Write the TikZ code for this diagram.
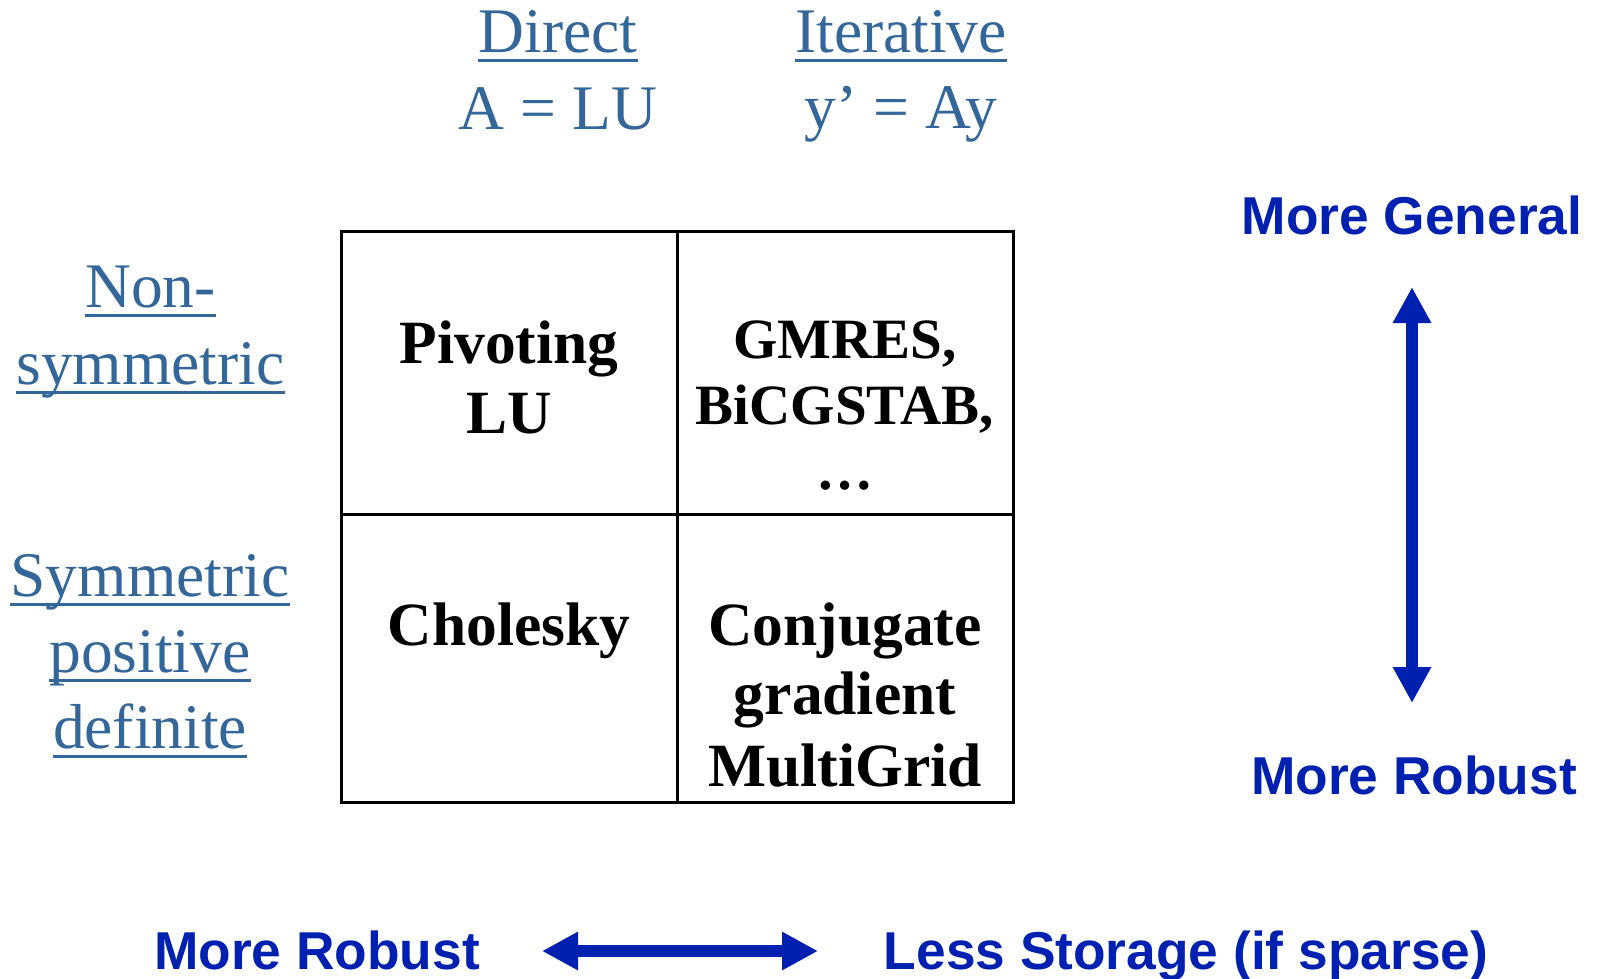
\documentclass[tikz,border=0pt]{standalone}
\usepackage{fontspec}
\setmainfont{Liberation Serif}
\newfontfamily\headsans{Liberation Sans}
\usetikzlibrary{arrows.meta}
\definecolor{headblue}{RGB}{51,102,153}
\definecolor{navyblue}{RGB}{0,32,176}

\begin{document}
\begin{tikzpicture}[x=1pt,y=-1pt,
  txt/.style={inner sep=0pt, anchor=base},
  hdr/.style={txt, text=headblue, font=\fontsize{63.5}{76}\selectfont},
  cell/.style={txt, font=\bfseries\fontsize{61.5}{71}\selectfont},
  cellsmall/.style={txt, font=\bfseries\fontsize{57}{65}\selectfont},
  note/.style={txt, text=navyblue, font=\headsans\bfseries\fontsize{53.3}{62}\selectfont},
  uline/.style={headblue, line width=3pt},
  gridline/.style={black, line width=3pt},
  bigarrow/.style={navyblue, line width=12pt,
    {Triangle[width=36pt,length=36pt]}-{Triangle[width=36pt,length=36pt]}},
]
% canvas
\fill[white] (0,0) rectangle (1600,978);
\useasboundingbox (0,0) rectangle (1600,978);

% column headers
\node[hdr] (direct) at (558,52) {Direct};
\node[hdr] (alu) at (558,129) {A = LU};
\node[hdr] (iter) at (901,52) {Iterative};
\node[hdr] (yay) at (901,128) {y’ = Ay};

% row headers
\node[hdr] (non) at (150.5,307) {Non-};
\node[hdr] (sym) at (150.5,384) {symmetric};
\node[hdr] (spd1) at (150,596) {Symmetric};
\node[hdr] (spd2) at (150,672) {positive};
\node[hdr] (spd3) at (150,748) {definite};

% underlines of the headers
\foreach \n in {direct,iter,non,sym,spd1,spd2,spd3}
  \draw[uline] ([yshift=-8pt]\n.base west) -- ([yshift=-8pt]\n.base east);

% the 2x2 table
\draw[gridline] (341,231) rectangle (1013,802);
\draw[gridline] (677,231) -- (677,802);
\draw[gridline] (341,514) -- (1013,514);

% cell contents
\node[cell] (piv) at (509,363) {Pivoting};
\node[cell] (lu) at (509,433) {LU};
\node[cellsmall] (gmres) at (845,358) {GMRES,};
\node[cellsmall] (bicg) at (845,424) {BiCGSTAB,};
\node[cellsmall] (dots) at (845,489) {…};
\node[cell] (chol) at (509,645) {Cholesky};
\node[cell] (conj) at (845,645) {Conjugate};
\node[cell] (grad) at (845,714) {gradient};
\node[cell] (mg) at (845,786) {MultiGrid};

% trade-off labels
\node[note] (general) at (1412,234) {More General};
\node[note] (robustv) at (1414,794) {More Robust};
\node[note] (robusth) at (317,969) {More Robust};
\node[note] (storage) at (1186,969) {Less Storage (if sparse)};

% trade-off arrows
\coordinate (vtop) at (1412,287);
\coordinate (vbot) at (1412,703);
\coordinate (hleft) at (542,951);
\coordinate (hright) at (818,951);
\draw[bigarrow] (vtop) -- (vbot);
\draw[bigarrow] (hleft) -- (hright);
\end{tikzpicture}
\end{document}
